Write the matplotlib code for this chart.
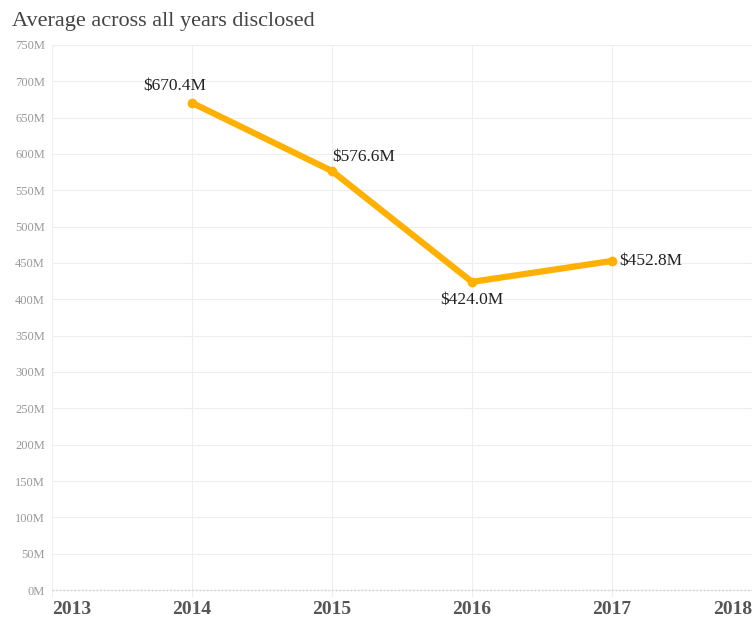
import matplotlib.pyplot as plt

# Dane
years = [2014, 2015, 2016, 2017]
values = [670.4, 576.6, 424.0, 452.8]
labels = ['$670.4M', '$576.6M', '$424.0M', '$452.8M']
x_ticks = [2013, 2014, 2015, 2016, 2017, 2018]
y_ticks = list(range(0, 751, 50))

plt.rcParams['font.family'] = ['Liberation Serif', 'DejaVu Serif']

fig = plt.figure(figsize=(7.52, 6.22), dpi=100)
ax = fig.add_axes([0.069, 0.0402, 0.931, 0.8875])

ax.plot(years, values, color='#FFB000', linewidth=4.5, marker='o',
        markersize=6, solid_capstyle='round', zorder=3)

# Etykiety punktów
offsets = [(-12, 6, 'center', 'bottom'), (0, 4, 'left', 'bottom'),
           (0, -7, 'center', 'top'), (5, 0, 'left', 'center')]
for x, y, t, (dx, dy, ha, va) in zip(years, values, labels, offsets):
    ax.annotate(t, (x, y), xytext=(dx, dy), textcoords='offset points',
                ha=ha, va=va, fontsize=12.5, color='#222222')

ax.set_xlim(2013, 2018)
ax.set_ylim(-9.6, 750)
ax.set_xticks(x_ticks)
ax.set_yticks(y_ticks)
ax.set_yticklabels([f'{v}M' for v in y_ticks])
ax.tick_params(axis='y', length=0, labelsize=9, colors='#999999', pad=5)
ax.tick_params(axis='x', length=0, labelsize=14, labelcolor='#555555', pad=3)
xl = ax.get_xticklabels()
for lab in xl:
    lab.set_fontweight('bold')
xl[0].set_ha('left')
xl[-1].set_ha('right')

ax.grid(True, color='#eeeeee', linewidth=0.8)
ax.axhline(0, color='#cccccc', linewidth=1, linestyle=':', zorder=2)
for s in ax.spines.values():
    s.set_visible(False)

fig.text(0.016, 0.965, 'Average across all years disclosed', fontsize=16,
         color='#444444', va='center', ha='left')

plt.savefig('out.png')
